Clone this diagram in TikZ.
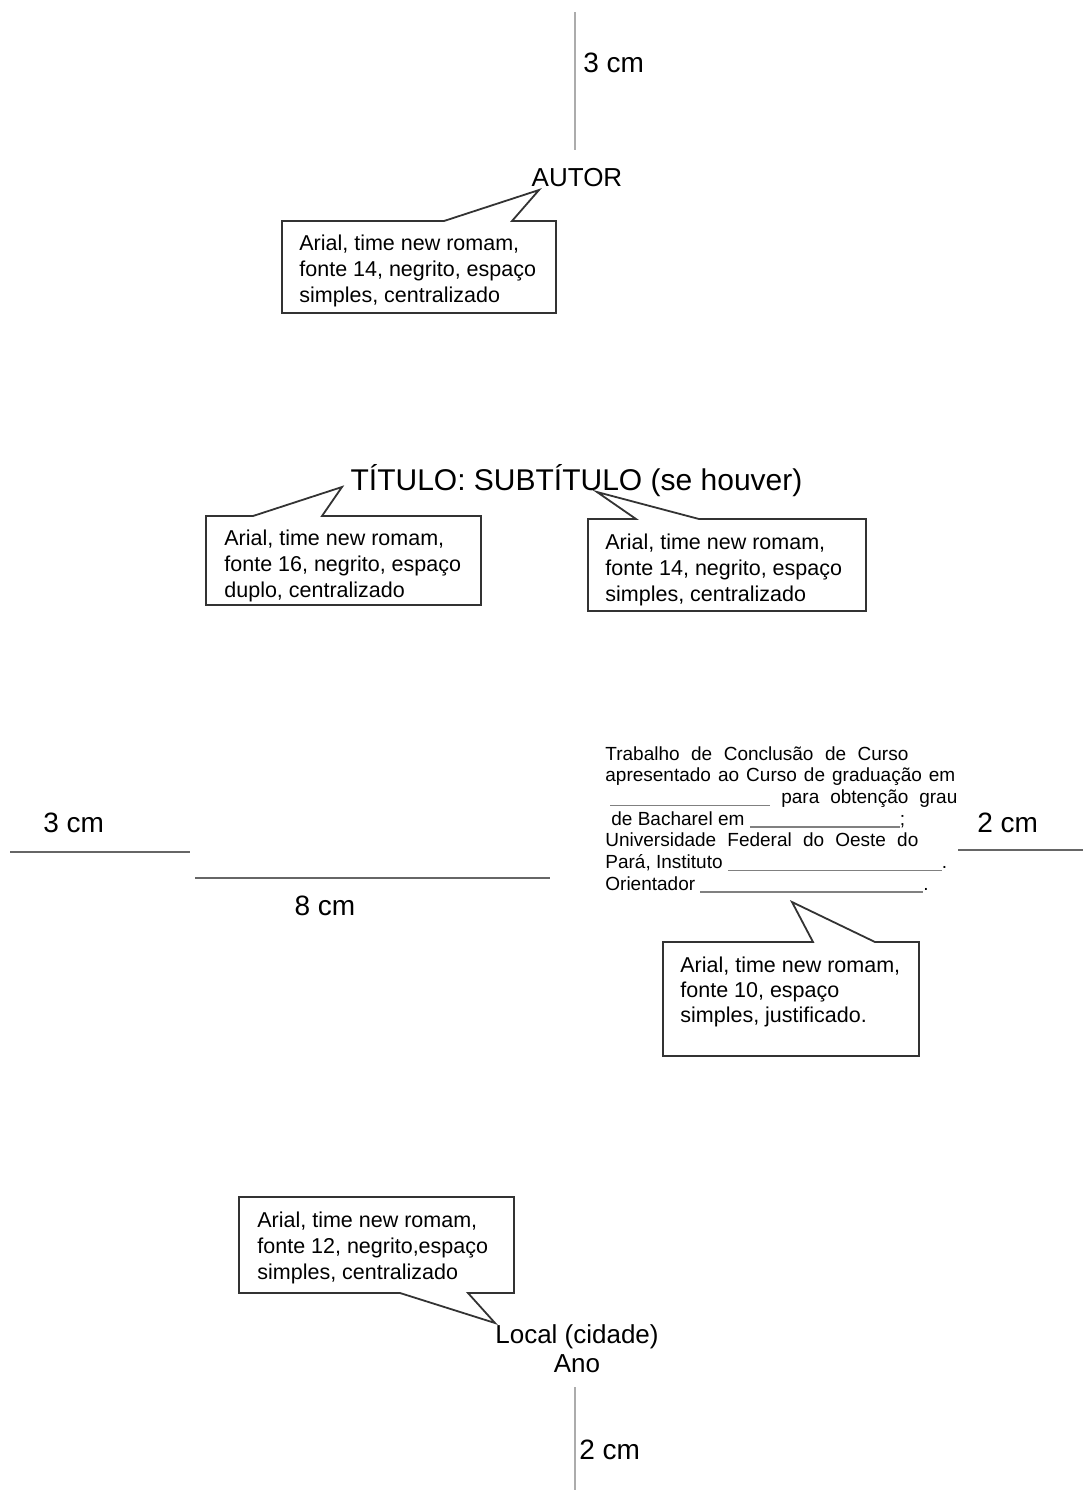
\documentclass[tikz,border=0pt]{standalone}
\usepackage{fontspec}
\setmainfont{Liberation Sans}
\usepackage{tikz}
\tikzset{>=latex}
\usetikzlibrary{calc}
\tikzset{
    balloon/.style={line width=0.9pt, draw=black!80, line join=miter},
    ruler/.style={line width=1.4pt, draw=gray!65},
    rulerthin/.style={line width=1pt, draw=gray!80!black},
    note/.style={anchor=north west, inner sep=0pt, align=left, font=\fontsize{10.75}{13}\selectfont},
    measure/.style={inner sep=0pt, font=\fontsize{14}{16}\selectfont}
}
\newcommand{\blank}[1]{\textcolor{gray}{\rule[-1.2pt]{#1}{0.7pt}}}

\begin{document}
\begin{tikzpicture}[x=0.5pt, y=-0.5pt]
    \useasboundingbox (0,0) rectangle (1083,1490);

    \coordinate (T1) at (575,12);
    \coordinate (T2) at (575,150);
    \coordinate (B1) at (575,1387);
    \coordinate (B2) at (575,1490);
    \coordinate (L1) at (10,852);
    \coordinate (L2) at (190,852);
    \coordinate (W1) at (195,878);
    \coordinate (W2) at (550,878);
    \coordinate (R1) at (958,850);
    \coordinate (R2) at (1083,850);

    \coordinate (tipAutor) at (539,190);
    \coordinate (tipTitulo) at (342,487);
    \coordinate (tipSub) at (597,492);
    \coordinate (tipTrab) at (792,902);
    \coordinate (tipLocal) at (495,1323);

    % Margins
    \draw[ruler] (T1) -- (T2);
    \draw[ruler] (B1) -- (B2);
    \draw[rulerthin] (L1) -- (L2);
    \draw[rulerthin] (W1) -- (W2);
    \draw[rulerthin] (R1) -- (R2);

    \node[measure, anchor=base west] (mTop) at (583,72) {3 cm};
    \node[measure, anchor=base west] (mBottom) at (579,1459) {2 cm};
    \node[measure, anchor=base west] (mLeft) at (43,832) {3 cm};
    \node[measure, anchor=base] (mWidth) at (325,915) {8 cm};
    \node[measure, anchor=base west] (mRight) at (977,832) {2 cm};

    % Page texts
    \node[anchor=base, inner sep=0pt, font=\fontsize{13}{15}\selectfont] (autor) at (577,186) {AUTOR};
    \node[anchor=base, inner sep=0pt, font=\fontsize{15}{17}\selectfont] (titulo) at (576.5,490) {TÍTULO: SUBTÍTULO (se houver)};
    \node[anchor=north, inner sep=0pt, align=center, font=\fontsize{13}{14.5}\selectfont] (local) at (577,1324) {Local (cidade)\\Ano};

    % Nature of the work
    \node[anchor=north west, inner sep=0pt, align=left, font=\fontsize{9.5}{10.85}\selectfont] (trabalho) at (605,746) {%
        \makebox[151.5pt][s]{Trabalho de Conclusão de Curso}\\
        \makebox[175pt][s]{apresentado ao Curso de graduação em}\\
        \makebox[176pt][s]{\hspace*{2.5pt}\blank{80pt} para obtenção grau}\\
        \hspace*{3pt}de Bacharel em \blank{75pt};\\
        \makebox[156.5pt][s]{Universidade Federal do Oeste do}\\
        Pará, Instituto \blank{107pt}.\\
        Orientador \blank{111.5pt}.};

    % Balloon autor
    \draw[balloon] (282,221) -- (444,221) -- (tipAutor) -- (512,221) -- (556,221) -- (556,313) -- (282,313) -- cycle;
    \node[note] (nAutor) at (299,235) {Arial, time new romam,\\fonte 14, negrito, espaço\\simples, centralizado};

    % Balloon titulo
    \draw[balloon] (206,516) -- (253,516) -- (tipTitulo) -- (322,516) -- (481,516) -- (481,605) -- (206,605) -- cycle;
    \node[note] (nTitulo) at (224,529.5) {Arial, time new romam,\\fonte 16, negrito, espaço\\duplo, centralizado};

    % Balloon subtitulo
    \draw[balloon] (588,519) -- (636,519) -- (tipSub) -- (699,519) -- (866,519) -- (866,611) -- (588,611) -- cycle;
    \node[note] (nSub) at (605,533.5) {Arial, time new romam,\\fonte 14, negrito, espaço\\simples, centralizado};

    % Balloon trabalho
    \draw[balloon] (663,942) -- (813,942) -- (tipTrab) -- (875,942) -- (919,942) -- (919,1056) -- (663,1056) -- cycle;
    \node[note, font=\fontsize{10.75}{12.5}\selectfont] (nTrab) at (680,956.5) {Arial, time new romam,\\fonte 10, espaço\\simples, justificado.};

    % Balloon local
    \draw[balloon] (239,1197) -- (514,1197) -- (514,1293) -- (468,1293) -- (tipLocal) -- (400,1293) -- (239,1293) -- cycle;
    \node[note] (nLocal) at (257,1211.5) {Arial, time new romam,\\fonte 12, negrito,espaço\\simples, centralizado};

\end{tikzpicture}
\end{document}
